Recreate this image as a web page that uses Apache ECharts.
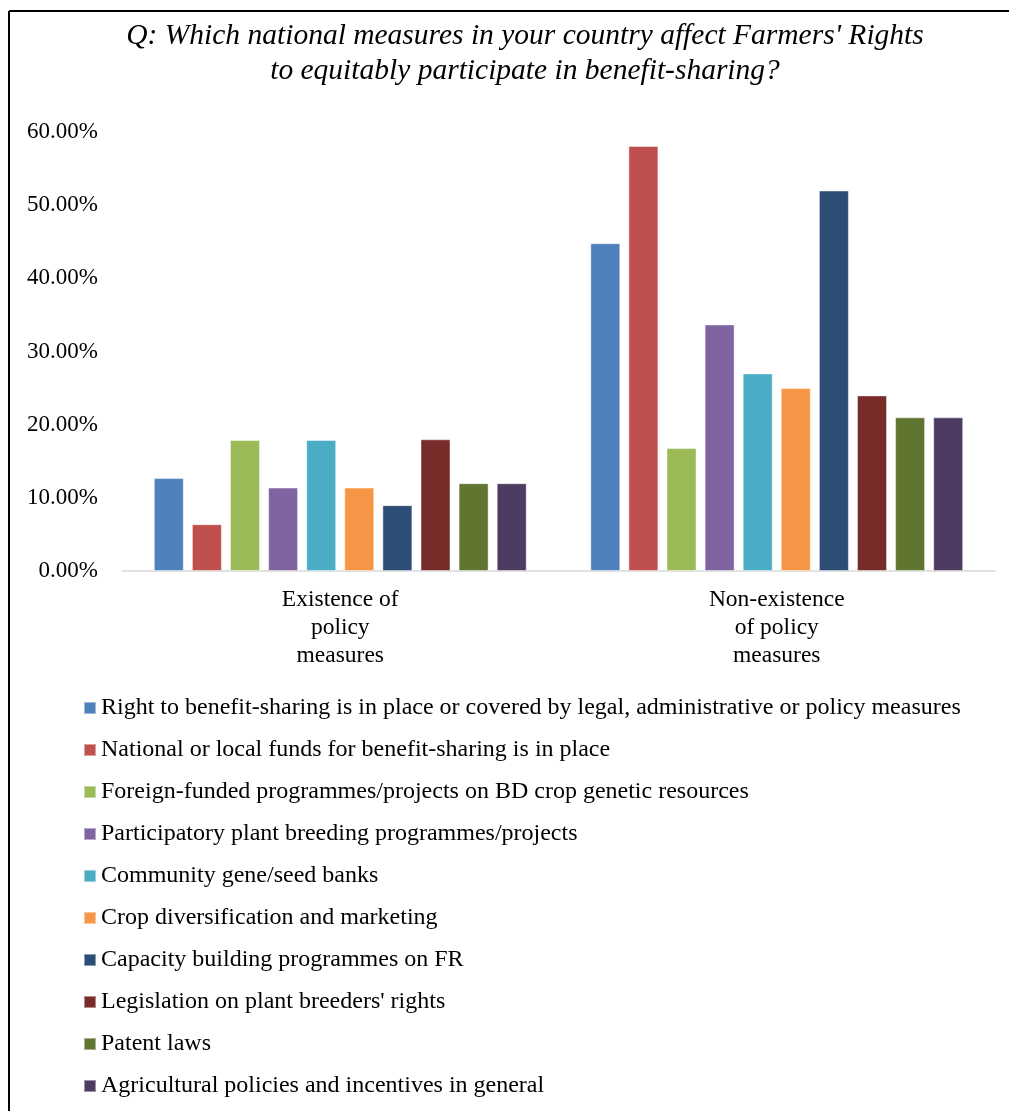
<!DOCTYPE html>
<html>
<head>
	<meta charset="UTF-8">
	<title>Farmers' Rights - benefit-sharing</title>
	<script src="https://cdn.jsdelivr.net/npm/echarts@6/dist/echarts.min.js"></script>
	<style>
		html, body { margin: 0; padding: 0; background: #fff; }
		#chart { width: 1009px; height: 1111px; }
	</style>
</head>
<body>
<div id="chart"></div>
<script type="text/javascript">
	// categories on the x axis
	var categories = ['Existence of\npolicy\nmeasures', 'Non-existence\nof policy\nmeasures'];

	// one entry per series (legend order)
	var seriesNames = [
		'Right to benefit-sharing is in place or covered by legal, administrative or policy measures',
		'National or local funds for benefit-sharing is in place',
		'Foreign-funded programmes/projects on BD crop genetic resources',
		'Participatory plant breeding programmes/projects',
		'Community gene/seed banks',
		'Crop diversification and marketing',
		'Capacity building programmes on FR',
		"Legislation on plant breeders' rights",
		'Patent laws',
		'Agricultural policies and incentives in general'
	];
	var seriesColors = ['#4F81BD', '#C0504D', '#9BBB59', '#8064A2', '#4BACC6',
		'#F79646', '#2C4D75', '#772C2A', '#5F7530', '#4D3B62'];

	// percentages
	var existenceValues    = [12.7, 6.4, 17.9, 11.4, 17.9, 11.4, 9.0, 18.0, 12.0, 12.0];
	var nonExistenceValues = [44.8, 58.1, 16.8, 33.7, 27.0, 25.0, 52.0, 24.0, 21.0, 21.0];

	var yTicks = { min: 0, max: 60, interval: 10 };

	var serif = '"Liberation Serif", "Times New Roman", serif';

	var series = [];
	for (var i = 0; i < seriesNames.length; i++) {
		series.push({
			name: seriesNames[i],
			type: 'bar',
			barWidth: 30,
			barGap: '27%',
			itemStyle: {
				color: seriesColors[i],
				borderColor: 'rgba(255,255,255,0.45)',
				borderWidth: 1
			},
			data: [existenceValues[i], nonExistenceValues[i]]
		});
	}

	var chart = echarts.init(document.getElementById('chart'), null, { renderer: 'canvas' });

	var option = {
		backgroundColor: '#fff',
		animation: false,
		title: {
			text: "Q: Which national measures in your country affect Farmers' Rights\nto equitably participate in benefit-sharing?",
			left: 520,
			top: 14,
			textAlign: 'center',
			textStyle: {
				fontFamily: serif,
				fontStyle: 'italic',
				fontWeight: 'normal',
				fontSize: 29.5,
				lineHeight: 35,
				color: '#000'
			}
		},
		// frame of the original picture (top and left edges only)
		graphic: [
			{ type: 'line', shape: { x1: 9, y1: 11, x2: 1009, y2: 11 }, style: { stroke: '#000', lineWidth: 2 } },
			{ type: 'line', shape: { x1: 9, y1: 11, x2: 9, y2: 1111 }, style: { stroke: '#000', lineWidth: 2 } }
		],
		legend: {
			orient: 'vertical',
			left: 83,
			top: 696,
			padding: 0,
			itemWidth: 12,
			itemHeight: 12,
			itemGap: 18,
			icon: 'rect',
			textStyle: {
				fontFamily: serif,
				fontSize: 24,
				lineHeight: 24,
				color: '#000'
			},
			data: seriesNames
		},
		grid: {
			left: 122,
			right: 14,
			top: 132,
			bottom: 540,
			containLabel: false
		},
		xAxis: {
			type: 'category',
			data: categories,
			axisLine: { show: true, lineStyle: { color: '#d9d9d9', width: 1.5 } },
			axisTick: { show: false },
			axisLabel: {
				margin: 15,
				fontFamily: serif,
				fontSize: 23.5,
				lineHeight: 28,
				color: '#000'
			}
		},
		yAxis: {
			type: 'value',
			min: yTicks.min,
			max: yTicks.max,
			interval: yTicks.interval,
			axisLine: { show: false },
			axisTick: { show: false },
			splitLine: { show: false },
			axisLabel: {
				margin: 24,
				fontFamily: serif,
				fontSize: 23,
				color: '#000',
				formatter: function (v) { return v.toFixed(2) + '%'; }
			}
		},
		series: series
	};

	chart.setOption(option);
</script>
</body>
</html>
